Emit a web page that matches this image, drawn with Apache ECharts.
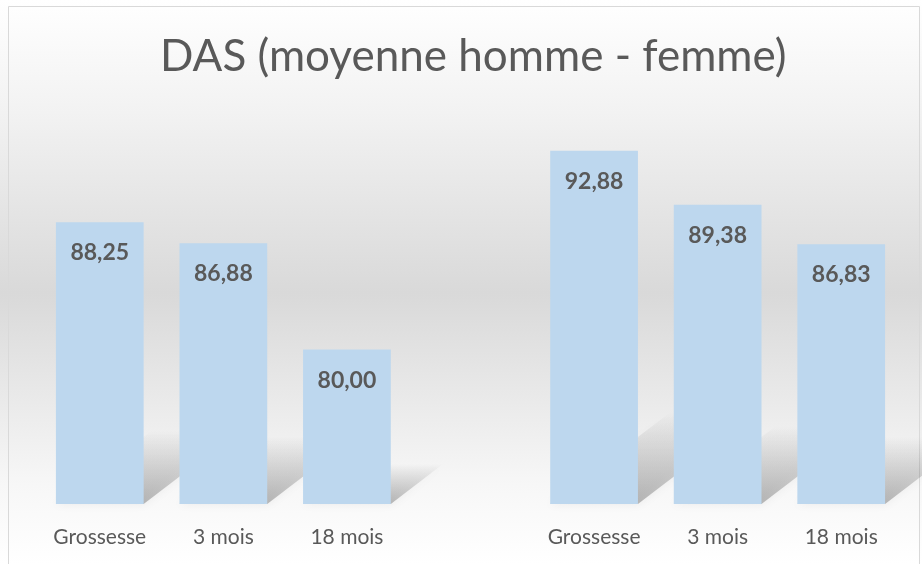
<!DOCTYPE html>
<html>
<head>
<meta charset="utf-8">
<script src="https://cdn.jsdelivr.net/npm/echarts@6/dist/echarts.min.js"></script>
<style>
  html, body { margin: 0; padding: 0; background: #fff; }
  #chart { width: 922px; height: 564px; }
</style>
</head>
<body>
<div id="chart"></div>
<script>
// catégories (un espace vide sépare les deux groupes)
const categories = ['Grossesse', '3 mois', '18 mois', '', 'Grossesse', '3 mois', '18 mois']
const dasValues = [88.25, 86.88, 80.00, '-', 92.88, 89.38, 86.83]

const yMin = 70
const yMax = 95

const myChart = echarts.init(document.getElementById('chart'))

// ombre en perspective derrière chaque barre
const shadowData = dasValues
  .map((v, i) => [i, v])
  .filter(d => d[1] !== '-')

const renderShadow = (params, api) => {
  const idx = api.value(0)
  const val = api.value(1)
  const base = api.coord([idx, yMin])
  const top = api.coord([idx, val])
  const bw = api.size([1, 0])[0] * 0.71
  const h = base[1] - top[1]
  const x0 = base[0] - bw / 2
  const x1 = base[0] + bw / 2
  const y0 = base[1]
  const sh = h * 0.26
  const dx = h * 0.34
  return {
    type: 'polygon',
    shape: {
      points: [[x0, y0], [x1, y0], [x1 + dx, y0 - sh], [x0 + dx, y0 - sh]]
    },
    style: {
      fill: new echarts.graphic.LinearGradient(0, 1, 0, 0, [
        {offset: 0, color: 'rgba(90,90,90,0.4)'},
        {offset: 1, color: 'rgba(90,90,90,0)'}
      ]),
      shadowBlur: 8,
      shadowColor: 'rgba(0,0,0,0.15)'
    }
  }
}

const option = {
  backgroundColor: new echarts.graphic.LinearGradient(0, 0, 0, 1, [
    {offset: 0, color: '#ffffff'},
    {offset: 0.2, color: '#f2f2f2'},
    {offset: 0.52, color: '#d9d9d9'},
    {offset: 0.86, color: '#f7f7f7'},
    {offset: 1, color: '#ffffff'}
  ]),
  animation: false,
  graphic: [
    {
      type: 'rect',
      shape: {x: 8.5, y: 6.5, width: 911, height: 570},
      style: {fill: 'none', stroke: '#d9d9d9', lineWidth: 1},
      silent: true
    }
  ],
  title: {
    text: 'DAS (moyenne homme - femme)',
    left: 155,
    top: 30,
    textStyle: {
      fontFamily: 'Lato',
      fontWeight: 'normal',
      fontSize: 44,
      color: '#595959'
    }
  },
  grid: {
    left: 38,
    right: 19,
    top: 118,
    bottom: 60
  },
  xAxis: {
    type: 'category',
    data: categories,
    axisLine: {show: false},
    axisTick: {show: false},
    axisLabel: {
      interval: 0,
      margin: 23,
      fontFamily: 'Lato',
      fontSize: 21,
      color: '#595959'
    }
  },
  yAxis: {
    type: 'value',
    min: yMin,
    max: yMax,
    show: false,
    splitLine: {show: false}
  },
  series: [
    {
      name: 'ombre',
      type: 'custom',
      renderItem: renderShadow,
      data: shadowData,
      encode: {x: 0, y: 1},
      z: 1,
      silent: true
    },
    {
      name: 'DAS',
      type: 'bar',
      data: dasValues,
      barCategoryGap: '29%',
      z: 2,
      itemStyle: {color: '#bdd7ee'},
      label: {
        show: true,
        position: 'insideTop',
        distance: 19,
        fontFamily: 'Lato',
        fontWeight: 'bold',
        fontSize: 23,
        color: '#595959',
        formatter: (p) => p.value.toFixed(2).replace('.', ',')
      }
    }
  ]
}

myChart.setOption(option)
</script>
</body>
</html>
